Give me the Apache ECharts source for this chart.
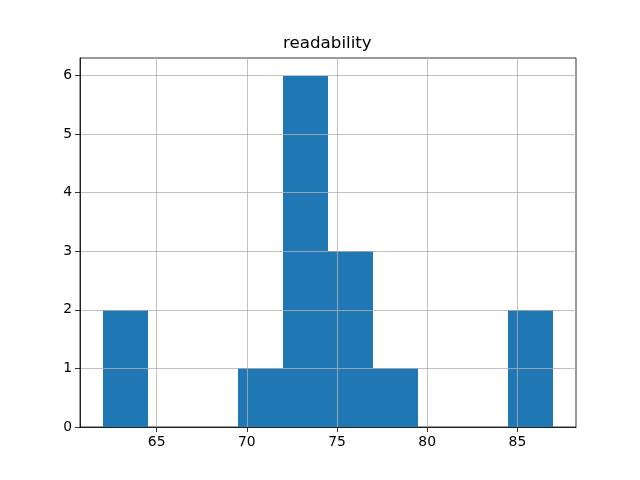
<!DOCTYPE html>
<html>
<head>
<meta charset="utf-8">
<script src="https://cdn.jsdelivr.net/npm/echarts@6/dist/echarts.min.js"></script>
<style>html,body{margin:0;padding:0;background:#fff}#c{width:640px;height:480px}</style>
</head>
<body>
<div id="c"></div>
<script>
var binStarts = [62, 64.5, 67, 69.5, 72, 74.5, 77, 79.5, 82, 84.5];
var binEnds   = [64.5, 67, 69.5, 72, 74.5, 77, 79.5, 82, 84.5, 87];
var counts    = [2, 0, 0, 1, 6, 3, 1, 0, 0, 2];
var xTicks = [65, 70, 75, 80, 85];
var yTicks = [0, 1, 2, 3, 4, 5, 6];

var data = binStarts.map(function (s, i) { return [s, binEnds[i], counts[i]]; });
var font = 'DejaVu Sans';
var chart = echarts.init(document.getElementById('c'), null, {renderer: 'canvas'});
chart.setOption({
  animation: false,
  backgroundColor: '#fff',
  title: {
    text: 'readability', left: 278, top: 30,
    textStyle: {fontFamily: font, fontSize: 16.7, fontWeight: 'normal', color: '#000'}
  },
  grid: {left: 80, right: 64, top: 58, bottom: 53, show: true, borderColor: '#000', borderWidth: 0.8, backgroundColor: 'transparent'},
  xAxis: {
    type: 'value', min: 60.75, max: 88.25, z: 10,
    axisLine: {show: true, onZero: false, lineStyle: {color: '#000', width: 0.8}},
    axisTick: {show: true, length: 5, lineStyle: {color: '#000', width: 0.8}, customValues: xTicks},
    axisLabel: {color: '#000', fontFamily: font, fontSize: 13.9, margin: 8, customValues: xTicks},
    splitLine: {show: true, lineStyle: {color: '#b0b0b0', width: 0.8}}
  },
  yAxis: {
    type: 'value', min: 0, max: 6.3, z: 10,
    axisLine: {show: true, lineStyle: {color: '#000', width: 0.8}},
    axisTick: {show: true, length: 5, lineStyle: {color: '#000', width: 0.8}, customValues: yTicks},
    axisLabel: {color: '#000', fontFamily: font, fontSize: 13.9, margin: 8, customValues: yTicks},
    splitLine: {show: true, lineStyle: {color: '#b0b0b0', width: 0.8}}
  },
  series: [{
    type: 'custom', z: 2,
    encode: {x: [0, 1], y: 2},
    data: data,
    renderItem: function (params, api) {
      if (!api.value(2)) { return null; }
      var p0 = api.coord([api.value(0), 0]);
      var p1 = api.coord([api.value(1), api.value(2)]);
      var x0 = Math.round(p0[0]), x1 = Math.round(p1[0]);
      var y0 = Math.round(p0[1]), y1 = Math.round(p1[1]);
      return {
        type: 'rect',
        shape: {x: x0, y: y1, width: x1 - x0, height: y0 - y1},
        style: {fill: '#1f77b4'}
      };
    }
  }]
});
</script>
</body>
</html>
